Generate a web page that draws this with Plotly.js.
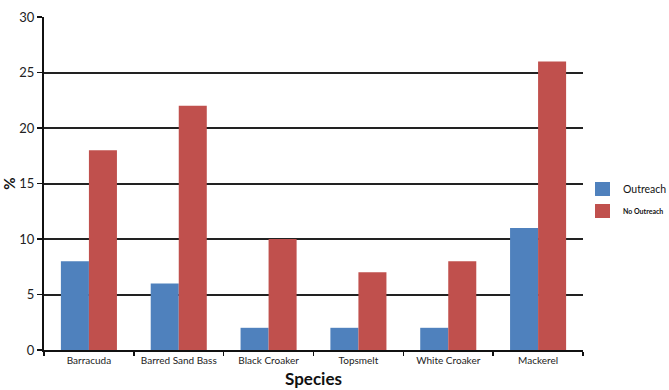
<!DOCTYPE html>
<html><head><meta charset="utf-8">
<script src="https://cdn.plot.ly/plotly-3.0.1.min.js"></script>
<style>html,body{margin:0;padding:0;background:#fff;overflow:hidden}</style>
</head><body>
<div id="chart" style="width:669px;height:390px"></div>
<script>
var species = ["Barracuda", "Barred Sand Bass", "Black Croaker", "Topsmelt", "White Croaker", "Mackerel"];
var outreach = [8, 6, 2, 2, 2, 11];
var noOutreach = [18, 22, 10, 7, 8, 26];
var yTicks = [0, 5, 10, 15, 20, 25, 30];
var seriesNames = ["Outreach", "No Outreach"];
var seriesColors = ["#4F81BD", "#C0504D"];

var traces = [
  {type: "bar", x: species, y: outreach, name: seriesNames[0], marker: {color: seriesColors[0]}},
  {type: "bar", x: species, y: noOutreach, name: seriesNames[1], marker: {color: seriesColors[1]}}
];

// manual legend at the right edge like the reference
var legShapes = [], legAnn = [];
var legY = [0.4835, 0.4174];
var legFont = [{size: 10.5, color: "#111"}, {size: 7, color: "#111"}];
for (var i = 0; i < 2; i++) {
  legShapes.push({type: "rect", xref: "paper", yref: "paper",
    x0: 1.0223, x1: 1.0501, y0: legY[i] - 0.021, y1: legY[i] + 0.021,
    fillcolor: seriesColors[i], line: {width: 0}});
  legAnn.push({xref: "paper", yref: "paper", x: 1.0705, y: legY[i], xanchor: "left", yanchor: "middle",
    text: i === 1 ? "<b>" + seriesNames[i] + "</b>" : seriesNames[i], showarrow: false, font: legFont[i]});
}

var layout = {
  width: 669, height: 390,
  margin: {l: 44, r: 86, t: 17, b: 40},
  paper_bgcolor: "#fff", plot_bgcolor: "#fff",
  font: {family: "Lato, 'Open Sans', sans-serif", color: "#222"},
  barmode: "group", bargap: 0.376, bargroupgap: 0,
  showlegend: false,
  shapes: legShapes,
  annotations: legAnn,
  xaxis: {
    showline: true, linecolor: "#111", linewidth: 2,
    ticks: "outside", tickson: "boundaries", ticklen: 4, tickcolor: "#111", tickwidth: 1.5,
    tickfont: {size: 10, color: "#222"},
    title: {text: "<b>Species</b>", font: {size: 17, color: "#111"}, standoff: 8},
    showgrid: false
  },
  yaxis: {
    range: [0, 30], tickvals: yTicks, ticktext: yTicks.map(String),
    showline: true, linecolor: "#111", linewidth: 2,
    ticks: "outside", ticklen: 5, tickcolor: "#111", tickwidth: 1.5,
    tickfont: {size: 13, color: "#222"},
    showgrid: true, gridcolor: "#222", gridwidth: 2,
    zeroline: false,
    title: {text: "<b>%</b>", font: {size: 15, color: "#111"}, standoff: 2}
  }
};
Plotly.newPlot("chart", traces, layout, {displayModeBar: false, staticPlot: true});
</script>
</body></html>
